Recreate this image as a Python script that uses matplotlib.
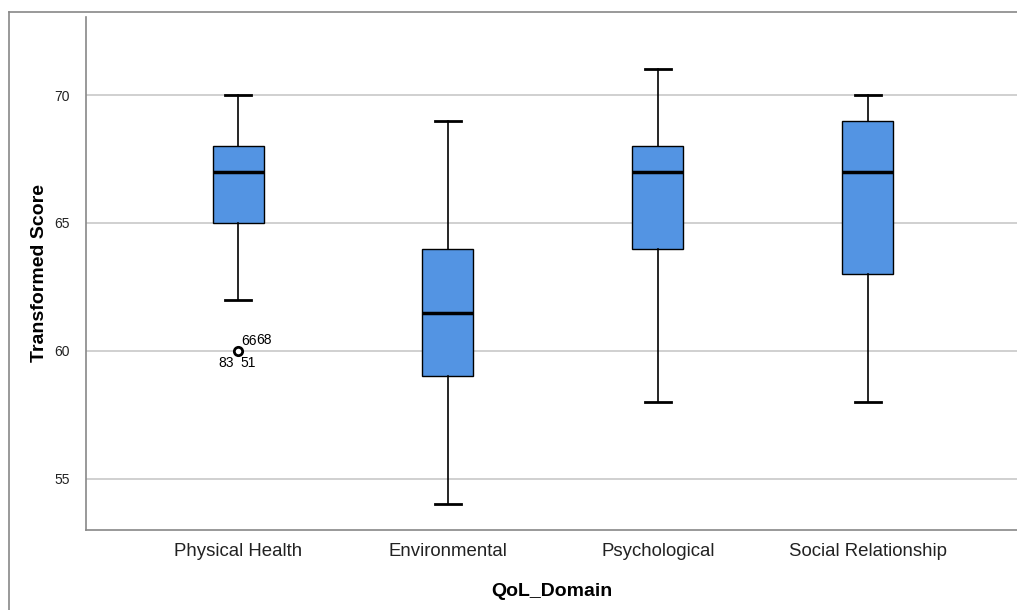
import matplotlib
matplotlib.use("Agg")
import matplotlib.pyplot as plt
from matplotlib.lines import Line2D

domains = ["Physical Health", "Environmental", "Psychological", "Social Relationship"]
whislo = [62, 54, 58, 58]
q1 = [65, 59, 64, 63]
med = [67, 61.5, 67, 67]
q3 = [68, 64, 68, 69]
whishi = [70, 69, 71, 70]
fliers = [[60], [], [], []]
# case labels on the outlier of Physical Health
flier_ids = ["66", "68", "83", "51"]

box_color = "#5394e3"

plt.rcParams["font.family"] = ["Liberation Sans", "DejaVu Sans"]

fig = plt.figure(figsize=(10.17, 6.1), dpi=100)
ax = fig.add_axes([86 / 1017, 80 / 610, 1 - 86 / 1017, (530 - 17) / 610])

stats = []
for i in range(len(domains)):
    stats.append({"label": domains[i], "whislo": whislo[i], "q1": q1[i], "med": med[i],
                  "q3": q3[i], "whishi": whishi[i], "fliers": fliers[i]})

ax.bxp(stats, positions=range(len(domains)), widths=0.243, patch_artist=True,
       showfliers=True,
       boxprops=dict(facecolor=box_color, edgecolor="black", linewidth=1.0),
       medianprops=dict(color="black", linewidth=2.5),
       whiskerprops=dict(color="black", linewidth=1.2),
       capprops=dict(color="black", linewidth=2.0),
       capwidths=0.125,
       flierprops=dict(marker="o", markersize=6, markerfacecolor="white",
                       markeredgecolor="black", markeredgewidth=2))

# outlier case numbers
ax.annotate(flier_ids[0], (0, fliers[0][0]), xytext=(2, 2), textcoords="offset points", fontsize=10, ha="left", va="bottom")
ax.annotate(flier_ids[1], (0, fliers[0][0]), xytext=(13, 3), textcoords="offset points", fontsize=10, ha="left", va="bottom")
ax.annotate(flier_ids[2], (0, fliers[0][0]), xytext=(-3, -4), textcoords="offset points", fontsize=10, ha="right", va="top")
ax.annotate(flier_ids[3], (0, fliers[0][0]), xytext=(2, -4), textcoords="offset points", fontsize=10, ha="left", va="top")

ax.set_xlim(-0.724, 3.71)
ax.set_ylim(53.0, 73.05)
ax.set_yticks([55, 60, 65, 70])
ax.set_xticks(range(len(domains)))
ax.set_xticklabels(domains, fontsize=13.4, color="#222222")
ax.tick_params(axis="y", labelsize=10, length=0, pad=11.5, labelcolor="#222222")
ax.tick_params(axis="x", length=0, pad=9)
ax.yaxis.grid(True, color="#c8c8c8", linewidth=1.2)
ax.set_axisbelow(True)

for s in ["top", "right"]:
    ax.spines[s].set_visible(False)
for s in ["left", "bottom"]:
    ax.spines[s].set_color("#888888")
    ax.spines[s].set_linewidth(1.2)

ax.set_ylabel("Transformed Score", fontsize=14, fontweight="bold", labelpad=5)
ax.set_xlabel("QoL_Domain", fontsize=14, fontweight="bold", labelpad=17)

# outer frame of the chart window
fig.add_artist(Line2D([9 / 1017, 1], [1 - 12 / 610, 1 - 12 / 610], transform=fig.transFigure, color="#888888", linewidth=1.2))
fig.add_artist(Line2D([9 / 1017, 9 / 1017], [0, 1 - 12 / 610], transform=fig.transFigure, color="#888888", linewidth=1.2))

fig.savefig("out.png", dpi=100)
